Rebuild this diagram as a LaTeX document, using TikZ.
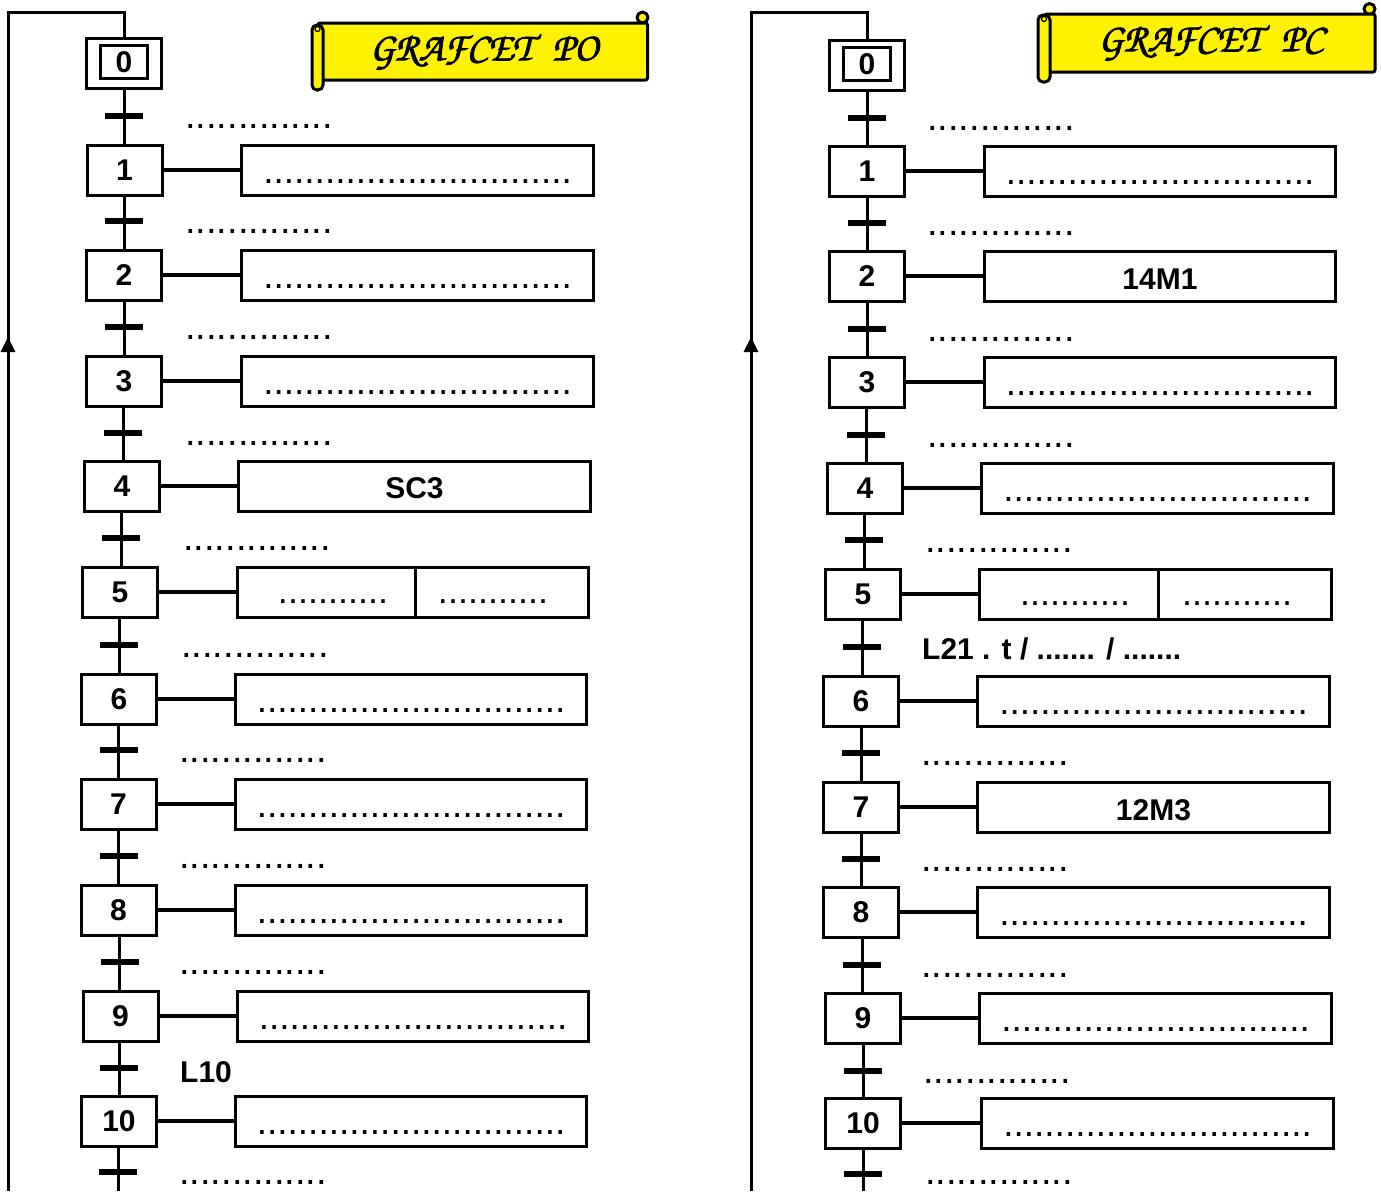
\documentclass[tikz,border=0pt]{standalone}
\usepackage{fontspec}
\setmainfont{Liberation Sans}
\newfontfamily\chorus{texgyrechorus-mediumitalic.otf}[FakeBold=2]
\usetikzlibrary{arrows.meta}
\tikzset{
  stepbox/.style={draw, line width=3pt, minimum width=75pt, minimum height=50pt, inner sep=0pt,
    font=\fontsize{30}{32}\selectfont\bfseries},
  innerbox/.style={draw, line width=3pt, minimum width=47pt, minimum height=33pt, inner sep=0pt,
    font=\fontsize{30}{32}\selectfont\bfseries},
  actbox/.style={draw, line width=3pt, minimum height=50pt, inner sep=0pt},
  acttext/.style={font=\fontsize{30}{32}\selectfont\bfseries, inner sep=0pt},
  tbar/.style={fill=black, minimum width=38pt, minimum height=6pt, inner sep=0pt},
  link/.style={line width=4pt},
  vline/.style={line width=3pt},
  loopline/.style={line width=3pt},
  tdots/.style={font=\fontsize{38}{40}\selectfont, inner sep=0pt, anchor=base west},
  adots/.style={font=\fontsize{37}{40}\selectfont, inner sep=0pt, anchor=base},
  lbl/.style={font=\fontsize{30}{32}\selectfont\bfseries, inner sep=0pt, anchor=base west},
  scroll/.style={fill=yellow, draw=black, line width=3pt, line join=round},
  title/.style={font=\chorus\fontsize{40}{44}\selectfont, inner sep=0pt},
}
\begin{document}
\begin{tikzpicture}[x=1pt,y=-1pt]
\useasboundingbox (0,0) rectangle (1381,1191);

% ================= LEFT : GRAFCET PO =================
\draw[scroll] (642.5,17.5) circle[radius=5.5];
\draw[scroll, rounded corners=2] (318,23) rectangle (647.5,80);
\draw[scroll, rounded corners=5] (312,25) rectangle (323,90);
\draw[line width=1.2pt] (317.5,29) circle[radius=2.5];
\node[title] (tPO) at (484,52) {GRAFCET\hspace{20pt}PO};

\node[stepbox] (L0) at (124,63) {};
\node[innerbox] (L0i) at (124,62) {0};

\foreach \i/\x/\y/\a/\b in {1/124.5/170/240/595, 2/124/275/240/595, 3/124/381/240/595,
  4/122/486/237/592, 5/120/592/236/590, 6/119/699/234/588, 7/118.5/804/234/588,
  8/118.5/910/234/588, 9/120.5/1016/236/590, 10/119/1121/234/588}{
  \node[stepbox] (L\i) at (\x,\y) {\i};
  \node[actbox, minimum width={\b-\a-3}] (LA\i) at ({(\a+\b)/2},\y) {};
  \draw[link] (L\i) -- (LA\i);
}
\foreach \i in {1,2,3,6,7,8,9,10}{
  \path (LA\i.center) ++(0,13) node[adots] {..............................};
}
\path (LA4.center) ++(0,2) node[acttext] (sc3) {SC3};
\draw[line width=3pt] (415,567.5) -- (415,616.5);
\node[adots, font=\fontsize{36}{40}\selectfont] (d5a) at (333,603) {...........};
\node[adots, font=\fontsize{36}{40}\selectfont] (d5b) at (493,603) {...........};

\foreach \i/\x/\y in {1/124/116, 2/124/221, 3/124/327, 4/123/433, 5/121/538, 6/119/645,
  7/118.5/750, 8/118.5/856, 9/119.5/962, 10/119/1068, 11/118/1172}{
  \node[tbar] (LT\i) at (\x,\y) {};
}
\foreach \i/\x in {1/185, 2/185, 3/185, 4/185, 5/183, 6/181, 7/179, 8/179, 9/179}{
  \path (LT\i.center) ++(0,12) coordinate (q);
  \node[tdots] at (\x,0 |- q) {..............};
}
\node[tdots] (Ld11) at (179,1184) {..............};
\node[lbl] (L10lbl) at (180,1082) {L10};

\foreach \a/\b in {0/1,1/2,2/3,3/4,4/5,5/6,6/7,7/8,8/9,9/10}{
  \pgfmathtruncatemacro{\t}{\a+1}
  \draw[vline] (LT\t |- L\a.south) -- (LT\t.center) -- (LT\t |- L\b.north);
}
\coordinate (Lend) at (118,1191);
\draw[vline] (LT11 |- L10.south) -- (LT11.center) -- (Lend);

\coordinate (Lbot) at (8,1191);
\coordinate (Ltop) at (8,12);
\coordinate (Larr) at (8,337);
\draw[loopline] (Lbot) -- (Ltop) -| (L0.north);
\draw[loopline, -{Triangle[width=14pt,length=15pt]}] (Lbot) -- (Larr);

% ================= RIGHT : GRAFCET PC =================
\draw[scroll] (1369.5,9) circle[radius=5.5];
\draw[scroll, rounded corners=2] (1045,14) rectangle (1375,72);
\draw[scroll, rounded corners=5] (1038,15) rectangle (1050,82);
\draw[line width=1.2pt] (1044,19) circle[radius=2.5];
\node[title] (tPC) at (1211,43) {GRAFCET\hspace{20pt}PC};

\node[stepbox] (R0) at (867,65) {};
\node[innerbox] (R0i) at (867,64) {0};

\foreach \i/\x/\y/\a/\b in {1/867/171/983/1337, 2/867/276/983/1337, 3/867/382/983/1337,
  4/865/488/980/1335, 5/863/594/978/1333, 6/861/701/976/1331, 7/861/807/976/1331,
  8/861/912/976/1331, 9/863/1018/978/1333, 10/863/1123/980/1335}{
  \node[stepbox] (R\i) at (\x,\y) {\i};
  \node[actbox, minimum width={\b-\a-3}] (RA\i) at ({(\a+\b)/2},\y) {};
  \draw[link] (R\i) -- (RA\i);
}
\foreach \i in {1,3,4,6,8,9,10}{
  \path (RA\i.center) ++(0,13) node[adots] {..............................};
}
\path (RA2.center) ++(0,3) node[acttext] (m141) {14M1};
\path (RA7.center) ++(0,3) node[acttext] (m123) {12M3};
\draw[line width=3pt] (1158,569.5) -- (1158,618.5);
\node[adots, font=\fontsize{36}{40}\selectfont] (d5c) at (1075,605) {...........};
\node[adots, font=\fontsize{36}{40}\selectfont] (d5d) at (1237,605) {...........};

\foreach \i/\x/\y in {1/867/118, 2/867/223, 3/867/329, 4/866/435, 5/864/540, 6/862/647,
  7/861/753, 8/861/859, 9/862/965, 10/863/1071, 11/863/1174}{
  \node[tbar] (RT\i) at (\x,\y) {};
}
\foreach \i/\x in {1/927, 2/927, 3/927, 4/927, 5/925, 7/921, 8/921, 9/921, 10/923}{
  \path (RT\i.center) ++(0,12) coordinate (q);
  \node[tdots] at (\x,0 |- q) {..............};
}
\node[tdots] (Rd11) at (925,1184) {..............};
\node[lbl] (L21lbl) at (922,659) {L21 . t / ....... / .......};

\foreach \a/\b in {0/1,1/2,2/3,3/4,4/5,5/6,6/7,7/8,8/9,9/10}{
  \pgfmathtruncatemacro{\t}{\a+1}
  \draw[vline] (RT\t |- R\a.south) -- (RT\t.center) -- (RT\t |- R\b.north);
}
\coordinate (Rend) at (863,1191);
\draw[vline] (RT11 |- R10.south) -- (RT11.center) -- (Rend);

\coordinate (Rbot) at (751,1191);
\coordinate (Rtop) at (751,12);
\coordinate (Rarr) at (751,337);
\draw[loopline] (Rbot) -- (Rtop) -| (R0.north);
\draw[loopline, -{Triangle[width=14pt,length=15pt]}] (Rbot) -- (Rarr);
\end{tikzpicture}
\end{document}
